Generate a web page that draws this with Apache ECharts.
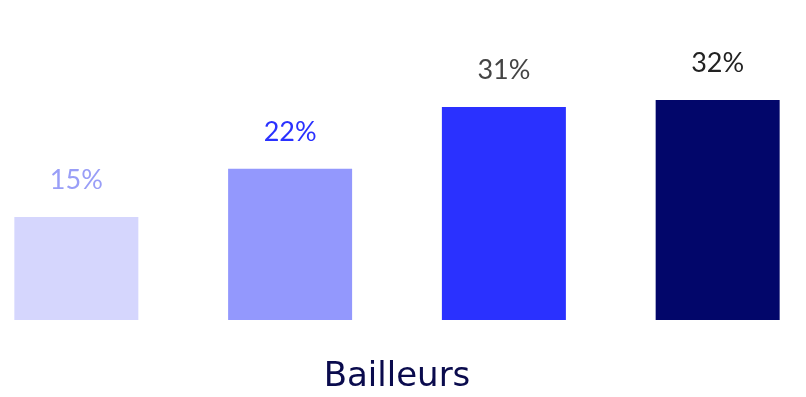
<!DOCTYPE html>
<html>
<head>
<meta charset="utf-8">
<script src="https://cdn.jsdelivr.net/npm/echarts@6/dist/echarts.min.js"></script>
<style>
  html, body { margin: 0; padding: 0; background: #ffffff; }
  #chart { width: 806px; height: 397px; }
</style>
</head>
<body>
<div id="chart"></div>
<script>
// One category, four bars side by side, each with its share in percent.
const categories = ['Bailleurs'];
const seriesNames = ['Groupe 1', 'Groupe 2', 'Groupe 3', 'Groupe 4'];
const seriesValues = [15, 22, 31, 32];
const barColors = ['#d5d6fd', '#9398fd', '#2a31ff', '#02066a'];
const labelColors = ['#999ef7', '#2a31ff', '#444444', '#222222'];

const chart = echarts.init(document.getElementById('chart'), null, { renderer: 'canvas' });

const series = seriesValues.map((v, i) => ({
  name: seriesNames[i],
  type: 'bar',
  data: [v],
  barWidth: 124,
  barGap: '72.4%',
  itemStyle: { color: barColors[i] },
  label: {
    show: true,
    position: 'top',
    distance: 23,
    formatter: '{c}%',
    color: labelColors[i],
    fontFamily: 'Lato',
    fontSize: 27
  }
}));

chart.setOption({
  animation: false,
  backgroundColor: '#ffffff',
  grid: { left: 0, right: 12, top: 45, bottom: 77, containLabel: false },
  xAxis: {
    type: 'category',
    data: categories,
    axisLine: { show: false },
    axisTick: { show: false },
    axisLabel: {
      color: '#0a0b4d',
      fontSize: 34,
      fontFamily: 'DejaVu Sans',
      margin: 40
    }
  },
  yAxis: {
    type: 'value',
    min: 0,
    max: 40,
    show: false,
    splitLine: { show: false }
  },
  series: series
});
</script>
</body>
</html>
